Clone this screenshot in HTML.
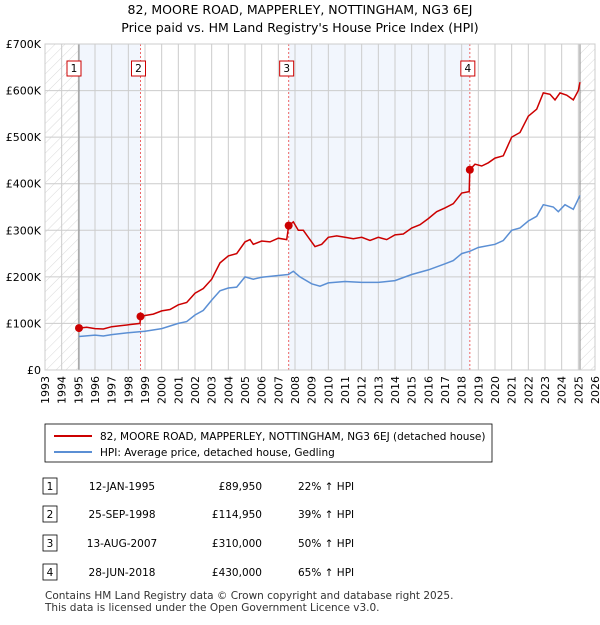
<!DOCTYPE html>
<html><head><meta charset="utf-8"><style>
body{margin:0;background:#fff;font-family:"Liberation Sans","DejaVu Sans",sans-serif;}
svg text{font-family:"DejaVu Sans","Liberation Sans",sans-serif;}
</style></head><body>
<svg id="c" width="600" height="620" xmlns="http://www.w3.org/2000/svg">
<defs><pattern id="hatch" width="7" height="7" patternUnits="userSpaceOnUse" patternTransform="rotate(45)"><line x1="0" y1="0" x2="0" y2="7" stroke="#d0d0d0" stroke-width="0.8"/></pattern></defs>
<text x="300" y="14" text-anchor="middle" font-size="12.5">82, MOORE ROAD, MAPPERLEY, NOTTINGHAM, NG3 6EJ</text>
<text x="300" y="32" text-anchor="middle" font-size="12.5">Price paid vs. HM Land Registry's House Price Index (HPI)</text>
<g id="plot"></g>
<g>
<rect x="45" y="424" width="447" height="38" fill="#fff" stroke="#000" stroke-width="0.8"/>
<line x1="54" y1="436" x2="92" y2="436" stroke="#cc0000" stroke-width="2"/>
<text x="100" y="440" font-size="10.5">82, MOORE ROAD, MAPPERLEY, NOTTINGHAM, NG3 6EJ (detached house)</text>
<line x1="54" y1="452" x2="92" y2="452" stroke="#5b8fd4" stroke-width="2"/>
<text x="100" y="456" font-size="10.5">HPI: Average price, detached house, Gedling</text>
</g>
<g id="table" font-size="10.5"></g>
<text x="45" y="599" font-size="10.5" fill="#333">Contains HM Land Registry data © Crown copyright and database right 2025.</text>
<text x="45" y="611" font-size="10.5" fill="#333">This data is licensed under the Open Government Licence v3.0.</text>
</svg>
<script>
const yTicks=[0,100,200,300,400,500,600,700];
const yTickLabels=["£0","£100K","£200K","£300K","£400K","£500K","£600K","£700K"];
const years=[1993,1994,1995,1996,1997,1998,1999,2000,2001,2002,2003,2004,2005,2006,2007,2008,2009,2010,2011,2012,2013,2014,2015,2016,2017,2018,2019,2020,2021,2022,2023,2024,2025,2026];
const saleDates=[1995.04,1998.73,2007.62,2018.49];
const salePrices=[89.95,114.95,310,430];
const saleLabels=["1","2","3","4"];
const saleDateText=["12-JAN-1995","25-SEP-1998","13-AUG-2007","28-JUN-2018"];
const salePriceText=["£89,950","£114,950","£310,000","£430,000"];
const saleHpiText=["22% ↑ HPI","39% ↑ HPI","50% ↑ HPI","65% ↑ HPI"];
const redT=[1995.04,1995.5,1996,1996.5,1997,1997.5,1998,1998.7,1998.73,1999,1999.5,2000,2000.5,2001,2001.5,2002,2002.5,2003,2003.5,2004,2004.5,2005,2005.3,2005.5,2006,2006.5,2007,2007.5,2007.62,2007.9,2008.2,2008.5,2008.8,2009.2,2009.6,2010,2010.5,2011,2011.5,2012,2012.5,2013,2013.5,2014,2014.5,2015,2015.5,2016,2016.5,2017,2017.5,2018,2018.45,2018.49,2018.8,2019.2,2019.6,2020,2020.5,2021,2021.5,2022,2022.5,2022.9,2023.3,2023.6,2023.9,2024.3,2024.7,2025,2025.1];
const redV=[90,92,89,88,93,95,97,100,115,117,120,127,130,140,145,165,175,195,230,245,250,275,280,270,277,275,283,280,310,318,300,300,285,265,270,285,288,285,282,285,278,285,280,290,292,305,312,325,340,348,357,380,383,430,442,438,445,455,460,500,510,545,560,595,592,580,595,590,580,600,618];
const blueT=[1995.04,1996,1996.5,1997,1998,1999,2000,2001,2001.5,2002,2002.5,2003,2003.5,2004,2004.5,2005,2005.5,2006,2007,2007.6,2007.9,2008.3,2009,2009.5,2010,2011,2012,2013,2014,2015,2016,2017,2017.5,2018,2018.5,2019,2020,2020.5,2021,2021.5,2022,2022.5,2022.9,2023.5,2023.8,2024.2,2024.7,2025.1];
const blueV=[72,75,73,76,80,83,89,100,104,118,128,150,170,176,178,200,195,199,203,205,212,200,185,180,187,190,188,188,192,205,215,228,235,250,255,263,270,278,300,305,320,330,355,350,340,355,345,375];

const X0=45,X1=595,Y0=370,Y1=44;
const xs=t=>X0+(t-1993)/(2026-1993)*(X1-X0);
const ys=v=>Y0-v/700*(Y0-Y1);
const NS="http://www.w3.org/2000/svg";
const g=document.getElementById('plot');
function mk(tag,at,parent){const e=document.createElementNS(NS,tag);for(const k in at)e.setAttribute(k,at[k]);(parent||g).appendChild(e);return e;}
const endT=2025.1;
let e;
e=mk('rect',{x:X0,y:Y1,width:xs(saleDates[0])-X0,height:Y0-Y1,fill:'url(#hatch)'});


e=mk('rect',{x:xs(endT),y:Y1,width:X1-xs(endT),height:Y0-Y1,fill:'url(#hatch)'});


for(let i=0;i<saleDates.length;i+=2){
 const a=saleDates[i],b=saleDates[i+1];
 e=mk('rect',{x:xs(a),y:Y1,width:xs(b)-xs(a),height:Y0-Y1,fill:'#eef3fc',opacity:0.75});
 
 
}
years.forEach(y=>{e=mk('line',{x1:xs(y),x2:xs(y),y1:Y1,y2:Y0,stroke:'#ccc','stroke-width':1});
 
 
 e=mk('text',{x:0,y:0,'font-size':11,'text-anchor':'end',transform:`translate(${xs(y)+4},${Y0+6}) rotate(-90)`});e.textContent=y;
 
 
});
yTicks.forEach((v,i)=>{e=mk('line',{x1:X0,x2:X1,y1:ys(v),y2:ys(v),stroke:'#ccc','stroke-width':1});
 
 
 e=mk('text',{x:X0-4,y:ys(v)+4,'font-size':11,'text-anchor':'end'});e.textContent=yTickLabels[i];
 
 
});
e=mk('line',{x1:xs(saleDates[0]),x2:xs(saleDates[0]),y1:Y1,y2:Y0,stroke:'#888','stroke-width':1});


e=mk('line',{x1:xs(endT),x2:xs(endT),y1:Y1,y2:Y0,stroke:'#888','stroke-width':1});


saleDates.forEach((d,i)=>{if(i>0){e=mk('line',{x1:xs(d),x2:xs(d),y1:Y1,y2:Y0,stroke:'#e66','stroke-width':1,'stroke-dasharray':'2,2'});
 
 }});
const pts=(T,V)=>T.map((t,i)=>xs(t).toFixed(1)+','+ys(V[i]).toFixed(1)).join(' ');
e=mk('polyline',{points:pts(blueT,blueV),fill:'none',stroke:'#5b8fd4','stroke-width':1.5});


e=mk('polyline',{points:pts(redT,redV),fill:'none',stroke:'#cc0000','stroke-width':1.5});


saleDates.forEach((d,i)=>{e=mk('circle',{cx:xs(d),cy:ys(salePrices[i]),r:4,fill:'#cc0000'});
 
 
 const bx=xs(d)-8-(i==0?3:0);
 e=mk('rect',{x:bx-1,y:61,width:14,height:15,fill:'#fff',stroke:'#cc0000','stroke-width':1});
 
 
 e=mk('text',{x:bx+6,y:72,'font-size':10.5,'text-anchor':'middle'});e.textContent=saleLabels[i];
 
 
});
e=mk('rect',{x:X0,y:Y1,width:X1-X0,height:Y0-Y1,fill:'none',stroke:'#ccc','stroke-width':1});


const tb=document.getElementById('table');
const rowY=[488,516,545,574];
saleLabels.forEach((l,i)=>{const y=rowY[i];
 e=mk('rect',{x:43,y:y-10,width:14,height:16,fill:'#fff',stroke:'#000','stroke-width':0.8},tb);
 
 
 e=mk('text',{x:50,y:y+2,'text-anchor':'middle'},tb);e.textContent=l;
 
 
 e=mk('text',{x:122,y:y+2,'text-anchor':'middle'},tb);e.textContent=saleDateText[i];
 
 
 e=mk('text',{x:262,y:y+2,'text-anchor':'end'},tb);e.textContent=salePriceText[i];
 
 
 e=mk('text',{x:298,y:y+2},tb);e.textContent=saleHpiText[i];
 
 
});
</script>
</body></html>
